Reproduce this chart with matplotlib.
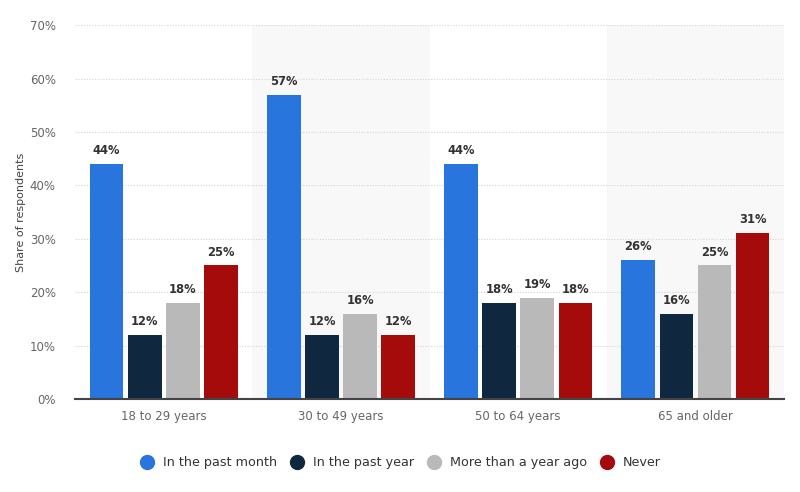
import numpy as np
import matplotlib.pyplot as plt
from matplotlib.lines import Line2D

# Data
age_groups = ['18 to 29 years', '30 to 49 years', '50 to 64 years', '65 and older']
series_names = ['In the past month', 'In the past year', 'More than a year ago', 'Never']
past_month = [44, 57, 44, 26]
past_year = [12, 12, 18, 16]
more_than_year = [18, 16, 19, 25]
never = [25, 12, 18, 31]
y_ticks = [0, 10, 20, 30, 40, 50, 60, 70]

colors = ['#2876dd', '#0f2840', '#b9b9b9', '#a50b0b']
values = [past_month, past_year, more_than_year, never]

plt.rcParams['font.family'] = ['DejaVu Sans']

fig = plt.figure(figsize=(8, 4.92), dpi=100)
ax = fig.add_axes([0.094, 0.189, 0.886, 0.760])

x = np.arange(len(age_groups))
bar_w = 0.19
step = 0.215

# alternating group shading
for i in range(len(age_groups)):
    if i % 2 == 1:
        ax.axvspan(i - 0.5, i + 0.5, color='#f8f8f8', zorder=0, lw=0)

for k, (vals, col) in enumerate(zip(values, colors)):
    offs = (k - 1.5) * step
    bars = ax.bar(x + offs, vals, width=bar_w, color=col, zorder=3)
    for b, v in zip(bars, vals):
        ax.text(b.get_x() + b.get_width() / 2, v + 1.3, f'{v}%',
                ha='center', va='bottom', fontsize=8.3, color='#333333',
                fontweight='semibold', zorder=4)

ax.set_xlim(-0.5, len(age_groups) - 0.5)
ax.set_ylim(0, 70)
ax.set_yticks(y_ticks)
ax.set_yticklabels([f'{t}%' for t in y_ticks])
ax.set_xticks(x)
ax.set_xticklabels(age_groups)
ax.tick_params(axis='both', length=0, labelsize=8.5, colors='#666666')
ax.tick_params(axis='x', pad=8)
ax.tick_params(axis='y', pad=14)
ax.yaxis.grid(True, linestyle=(0, (1, 1.5)), color='#d4d4d4', linewidth=0.8, zorder=1)
for s in ['top', 'right', 'left']:
    ax.spines[s].set_visible(False)
ax.spines['bottom'].set_color('#444444')
ax.spines['bottom'].set_linewidth(1.5)
ax.spines['bottom'].set_zorder(5)
ax.set_ylabel('Share of respondents', fontsize=8, color='#444444', labelpad=3)

handles = [Line2D([0], [0], marker='o', linestyle='', markersize=10,
                  markerfacecolor=c, markeredgecolor=c) for c in colors]
fig.legend(handles, series_names, loc='center', bbox_to_anchor=(0.497, 0.059),
           ncol=4, frameon=False, fontsize=9.2, handletextpad=0.2,
           columnspacing=0.6, labelcolor='#333333')

fig.savefig('out.png', dpi=100)
